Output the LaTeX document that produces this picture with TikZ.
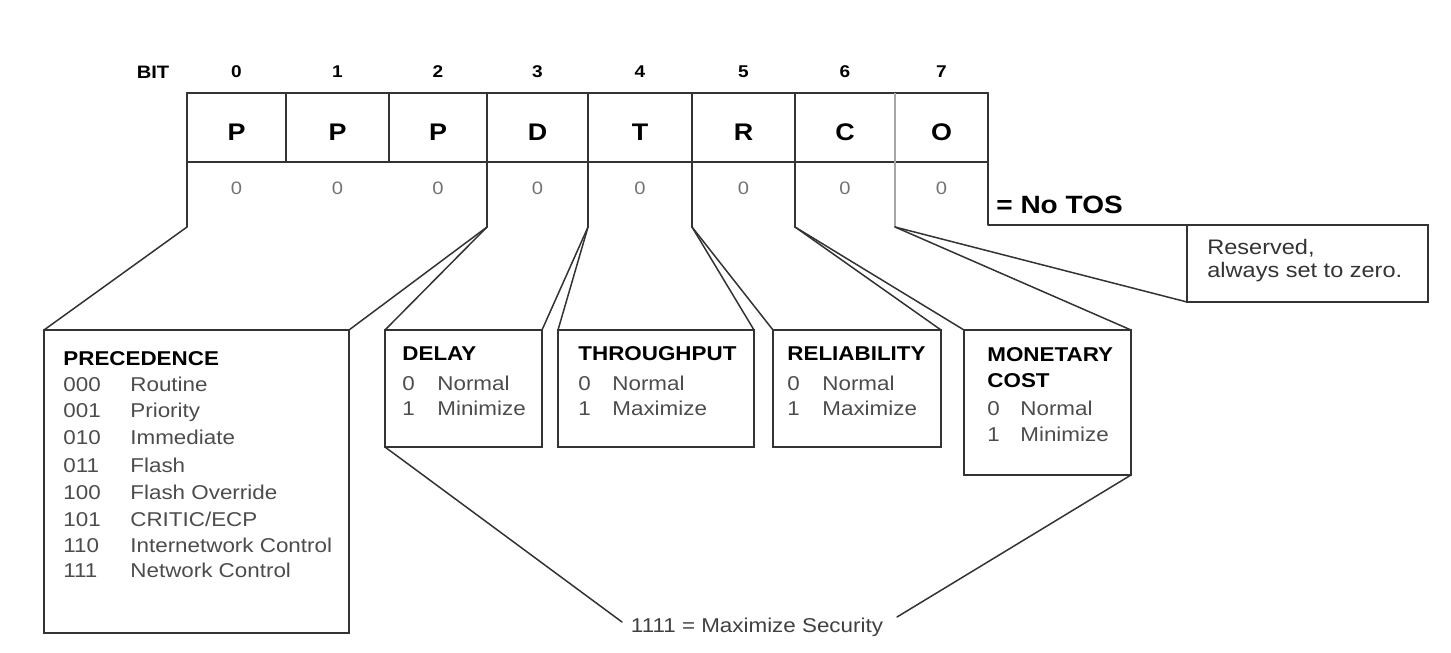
\documentclass[tikz,border=0pt]{standalone}
\usepackage{fontspec}
\setmainfont{Liberation Sans}[FakeStretch=1.12]
\usetikzlibrary{fit}
\begin{document}
\tikzset{
  ln/.style={draw=black!80, line width=1pt, line cap=round, line join=round},
  lnthin/.style={draw=black!35, line width=0.6pt},
  cn/.style={draw=black!80, line width=0.75pt, line cap=round},
  box/.style={draw=black!80, line width=1pt, inner sep=0pt, outer sep=0pt},
  cellx/.style={inner sep=0pt, outer sep=0pt},
  bitno/.style={font=\fontsize{8.5}{10}\selectfont\bfseries, inner sep=0pt},
  letter/.style={font=\fontsize{12}{14}\selectfont\bfseries, inner sep=0pt},
  zero/.style={font=\fontsize{9}{10}\selectfont, text=black!55, inner sep=0pt},
  ttl/.style={font=\fontsize{10}{12}\selectfont\bfseries, anchor=base west, inner sep=0pt},
  itm/.style={font=\fontsize{10}{12}\selectfont, text=black!70, anchor=base west, inner sep=0pt},
}
\begin{tikzpicture}[x=0.5pt, y=-0.5pt]
\useasboundingbox (0,0) rectangle (1451,653);

% ---- bit table ----
\node[bitno, font=\fontsize{9}{10}\selectfont\bfseries] (bit) at (153,72) {BIT};
\foreach \i/\a/\b/\L in {0/187/286/P, 1/286/389/P, 2/389/487/P, 3/487/588/D, 4/588/692/T, 5/692/795/R, 6/795/895/C, 7/895/988/O} {
  \node[cellx, fit={(\a,93) (\b,162)}] (c\i) {};
  \node[letter] (l\i) at ({(\a+\b)/2},132) {\L};
  \node[bitno] (n\i) at ({(\a+\b)/2},72) {\i};
  \node[zero] (z\i) at ({(\a+\b)/2},188) {0};
}

\coordinate (b0) at (187,227);
\coordinate (b3) at (487,227);
\coordinate (b4) at (588,227);
\coordinate (b5) at (692,227);
\coordinate (b6) at (795,227);
\coordinate (b7) at (895,227);
\coordinate (b8) at (988,225);

% ---- boxes ----
\node[box, fit={(44,330) (349,633)}] (prec) {};
\node[box, fit={(385,330) (542,447)}] (delay) {};
\node[box, fit={(558,330) (754,447)}] (thr) {};
\node[box, fit={(773,330) (941,447)}] (rel) {};
\node[box, fit={(964,330) (1131,475)}] (mon) {};
\node[box, fit={(1187,225) (1428,302)}] (res) {};

% ---- table lines ----
\draw[ln] (c0.north west) -- (c7.north east);
\draw[ln] (c0.south west) -- (c7.south east);
\draw[ln] (b0) -- (c0.north west);
\draw[ln] (c0.north east) -- (c0.south east);
\draw[ln] (c1.north east) -- (c1.south east);
\draw[ln] (c2.north east) -- (b3);
\draw[ln] (c3.north east) -- (b4);
\draw[ln] (c4.north east) -- (b5);
\draw[ln] (c5.north east) -- (b6);
\draw[lnthin] (c6.north east) -- (b7);
\draw[ln] (c7.north east) -- (b8) -- (res.north east);

% ---- connectors ----
\draw[cn] (b0) -- (prec.north west);
\draw[cn] (b3) -- (prec.north east);
\draw[cn] (b3) -- (delay.north west);
\draw[cn] (b4) -- (delay.north east);
\draw[cn] (b4) -- (thr.north west);
\draw[cn] (b5) -- (thr.north east);
\draw[cn] (b5) -- (rel.north west);
\draw[cn] (b6) -- (rel.north east);
\draw[cn] (b6) -- (mon.north west);
\draw[cn] (b7) -- (mon.north east);
\draw[cn] (b7) -- (res.south west);

% ---- No TOS / Reserved ----
\node[anchor=west, inner sep=0pt, font=\fontsize{12.5}{14}\selectfont\bfseries] (notos) at (996,205) {= No TOS};
\node[itm, text=black!80, font=\fontsize{10.5}{12}\selectfont] (res1) at (1207,254) {Reserved,};
\node[itm, text=black!80, font=\fontsize{10.5}{12}\selectfont] (res2) at (1207,277) {always set to zero.};

% ---- precedence ----
\node[ttl] (pt) at (63,365) {PRECEDENCE};
\node[itm] (pn0) at (63,391) {000};  \node[itm] (pd0) at (130,391) {Routine};
\node[itm] (pn1) at (63,417) {001};  \node[itm] (pd1) at (130,417) {Priority};
\node[itm] (pn2) at (63,444) {010};  \node[itm] (pd2) at (130,444) {Immediate};
\node[itm] (pn3) at (63,472) {011};  \node[itm] (pd3) at (130,472) {Flash};
\node[itm] (pn4) at (63,499) {100};  \node[itm] (pd4) at (130,499) {Flash Override};
\node[itm] (pn5) at (63,526) {101};  \node[itm] (pd5) at (130,526) {CRITIC/ECP};
\node[itm] (pn6) at (63,552) {110};  \node[itm] (pd6) at (130,552) {Internetwork Control};
\node[itm] (pn7) at (63,577) {111};  \node[itm] (pd7) at (130,577) {Network Control};

% ---- delay ----
\node[ttl] (dt) at (402,360) {DELAY};
\node[itm] (dn0) at (402,390) {0}; \node[itm] (dd0) at (437,390) {Normal};
\node[itm] (dn1) at (402,415) {1}; \node[itm] (dd1) at (437,415) {Minimize};

% ---- throughput ----
\node[ttl] (tt) at (578,360) {THROUGHPUT};
\node[itm] (tn0) at (578,390) {0}; \node[itm] (td0) at (612,390) {Normal};
\node[itm] (tn1) at (578,415) {1}; \node[itm] (td1) at (612,415) {Maximize};

% ---- reliability ----
\node[ttl] (rt) at (787,360) {RELIABILITY};
\node[itm] (rn0) at (787,390) {0}; \node[itm] (rd0) at (822,390) {Normal};
\node[itm] (rn1) at (787,415) {1}; \node[itm] (rd1) at (822,415) {Maximize};

% ---- monetary cost ----
\node[ttl] (mt1) at (987,361) {MONETARY};
\node[ttl] (mt2) at (987,387) {COST};
\node[itm] (mn0) at (987,415) {0}; \node[itm] (md0) at (1020,415) {Normal};
\node[itm] (mn1) at (987,441) {1}; \node[itm] (md1) at (1020,441) {Minimize};

% ---- security ----
\node[inner sep=0pt, font=\fontsize{10}{12}\selectfont, text=black!75] (sec) at (757,627) {1111 = Maximize Security};
\coordinate (secL) at (622,622);
\coordinate (secR) at (897,617);
\draw[cn] (delay.south west) -- (secL);
\draw[cn] (mon.south east) -- (secR);
\end{tikzpicture}
\end{document}
